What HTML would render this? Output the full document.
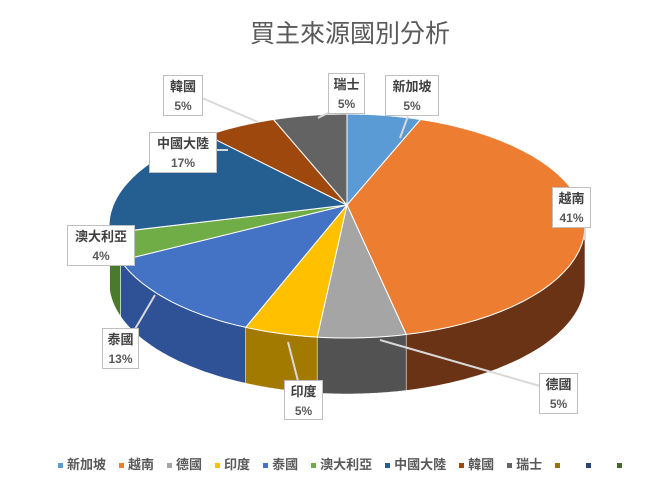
<!DOCTYPE html>
<html><head><meta charset="utf-8">
<style>
body{margin:0;background:#fff;}
#wrap{position:relative;width:668px;height:486px;overflow:hidden;font-family:"Liberation Sans","Noto Sans CJK TC",sans-serif;}
.lbl{position:absolute;background:#fff;border:1px solid #bfbfbf;color:#404040;font-size:13px;font-weight:bold;text-align:center;line-height:19px;padding:1px 3px;box-sizing:border-box;}
.lbl span{font-size:12px;color:#595959;}
</style></head>
<body>
<div id="wrap">
<div style="position:absolute;left:0;width:700px;top:14px;text-align:center;font-size:25px;color:#595959;font-family:'Liberation Sans','Noto Sans CJK TC',sans-serif;">買主來源國別分析</div>
<svg id="pie" width="668" height="486" style="position:absolute;left:0;top:0"></svg>
<div id="labels"></div>
<div id="legend" style="position:absolute;left:58px;top:454px;font-size:13px;font-weight:bold;color:#595959;white-space:nowrap;"></div>
</div>
<script>
const categories=["新加坡","越南","德國","印度","泰國","澳大利亞","中國大陸","韓國","瑞士"];
const values=[5,41,6,5,13,4,16,5,5];
const pctLabels=["5%","41%","5%","5%","13%","4%","17%","5%","5%"];
const topColors=["#5b9bd5","#ed7d31","#a5a5a5","#ffc000","#4472c4","#70ad47","#255e91","#9e480e","#636363"];
const sideColors=["#3a6d9c","#6a3316","#525252","#a37a00","#2f5195","#4a7a2e","#1a4268","#6a2f08","#444444"];
const labelPos=[[385,75,54,41],[552,187,39,41],[539,373,39,41],[284,380,39,40],[102,328,37,41],[67,225,68,41],[149,132,68,41],[163,75,40,41],[328,73,37,41]];
const leaders=[[[408,116],[400,138]],[[585,228],[585,240]],[[380,340],[540,386]],[[288,342],[298,381]],[[155,295],[135,329]],[[118,246],[112,246]],[[216,150],[228,150]],[[202,98],[258,122]],[[330,112],[318,118]]];
const svg=document.getElementById('pie');const NS='http://www.w3.org/2000/svg';
const cx=347,cy=226,rx=238,ry=112,depth=56,ax=347,ay=205;
function pt(t){return [cx+rx*Math.sin(t),cy-ry*Math.cos(t)];}
const total=values.reduce((a,b)=>a+b,0);
let acc=0;const angles=values.map(v=>{const a0=acc/total*2*Math.PI;acc+=v;return [a0,acc/total*2*Math.PI];});
function arcPath(a0,a1,dy){let d='';const n=40;for(let i=0;i<=n;i++){const t=a0+(a1-a0)*i/n;const p=pt(t);d+=(i?'L':'M')+p[0].toFixed(1)+','+(p[1]+dy).toFixed(1);}return d;}
// sides
angles.forEach((a,i)=>{
  const s=Math.max(a[0],Math.PI/2),e=Math.min(a[1],Math.PI*1.5);
  if(e<=s)return;
  const n=40;let d='';
  for(let k=0;k<=n;k++){const p=pt(s+(e-s)*k/n);d+=(k?'L':'M')+p[0].toFixed(1)+','+p[1].toFixed(1);}
  for(let k=n;k>=0;k--){const p=pt(s+(e-s)*k/n);d+='L'+p[0].toFixed(1)+','+(p[1]+depth).toFixed(1);}
  d+='Z';
  const el=document.createElementNS(NS,'path');
  el.setAttribute('d',d);el.setAttribute('fill',sideColors[i]);el.setAttribute('stroke','#fff');el.setAttribute('stroke-width','0.6');
  
  
  svg.appendChild(el);
});
// tops
angles.forEach((a,i)=>{
  const d='M'+ax+','+ay+arcPath(a[0],a[1],0).replace('M','L')+'Z';
  const el=document.createElementNS(NS,'path');
  el.setAttribute('d',d);el.setAttribute('fill',topColors[i]);el.setAttribute('stroke','#fff');el.setAttribute('stroke-width','1');
  
  
  svg.appendChild(el);
});
leaders.forEach((l,i)=>{
  const el=document.createElementNS(NS,'line');
  el.setAttribute('x1',l[0][0]);el.setAttribute('y1',l[0][1]);el.setAttribute('x2',l[1][0]);el.setAttribute('y2',l[1][1]);
  el.setAttribute('stroke','#d9d9d9');el.setAttribute('stroke-width','2');
  
  
  svg.appendChild(el);
});
const lab=document.getElementById('labels');
categories.forEach((c,i)=>{
  const p=labelPos[i];const d=document.createElement('div');d.className='lbl';
  d.style.left=p[0]+'px';d.style.top=p[1]+'px';d.style.width=p[2]+'px';d.style.height=p[3]+'px';
  d.innerHTML=c+'<br><span>'+pctLabels[i]+'</span>';
  
  
  lab.appendChild(d);
});
const leg=document.getElementById('legend');
const extra=["#997300","#264478","#43682b"];
categories.forEach((c,i)=>{
  const s=document.createElement('span');s.style.marginRight='13px';
  s.innerHTML='<span style="display:inline-block;width:5px;height:5px;background:'+topColors[i]+';margin-right:4px;vertical-align:middle"></span>'+c;
  
  
  leg.appendChild(s);
});
extra.forEach(col=>{
  const s=document.createElement('span');s.style.marginRight='26px';
  s.innerHTML='<span style="display:inline-block;width:5px;height:5px;background:'+col+';vertical-align:middle"></span>';
  
  
  leg.appendChild(s);
});
</script>
</body></html>
